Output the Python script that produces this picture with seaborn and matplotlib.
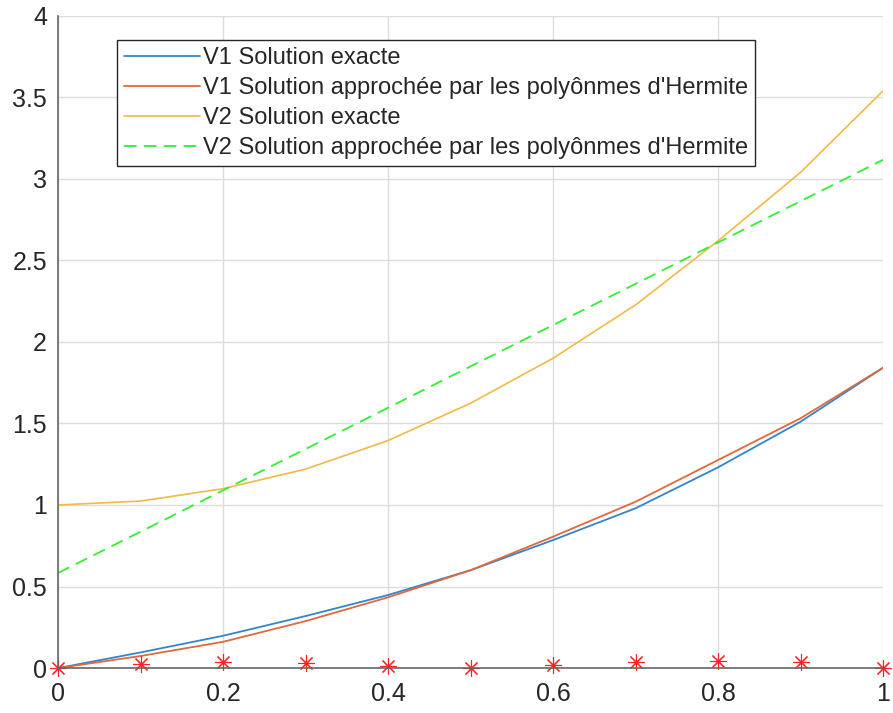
import matplotlib
matplotlib.use("Agg")
import matplotlib.pyplot as plt
import seaborn as sb
import pandas as pd

# values
x = [0.0, 0.1, 0.2, 0.3, 0.4, 0.5, 0.6, 0.7, 0.8, 0.9, 1.0]
v1_exact = [0.0, 0.096, 0.198, 0.319, 0.448, 0.60, 0.785, 0.98, 1.231, 1.511, 1.842]
v1_hermite = [0.0, 0.074, 0.161, 0.288, 0.434, 0.60, 0.806, 1.02, 1.276, 1.532, 1.842]
v2_exact = [1.0, 1.024, 1.10, 1.22, 1.395, 1.624, 1.90, 2.227, 2.62, 3.04, 3.54]
v2_hermite = [0.583, 0.836, 1.09, 1.343, 1.596, 1.85, 2.103, 2.356, 2.61, 2.863, 3.117]
erreur = [0.0, 0.025, 0.035, 0.03, 0.012, 0.0, 0.02, 0.035, 0.043, 0.035, 0.003]

labels = ["V1 Solution exacte",
          "V1 Solution approchée par les polyônmes d'Hermite",
          "V2 Solution exacte",
          "V2 Solution approchée par les polyônmes d'Hermite"]

if __name__ == '__main__':
    sb.set_style("white")
    plt.rcParams['font.family'] = ['Liberation Sans', 'DejaVu Sans']

    df = pd.DataFrame({"x": x, "v1e": v1_exact, "v1h": v1_hermite,
                       "v2e": v2_exact, "v2h": v2_hermite, "err": erreur})

    fig = plt.figure(figsize=(8.93, 7.13), dpi=100)
    ax = fig.add_axes([0.065, 0.063, 0.924, 0.915])

    sb.lineplot(data=df, x="x", y="v1e", color="#2F86CC", lw=1.3, label=labels[0], ax=ax)
    sb.lineplot(data=df, x="x", y="v1h", color="#E0683C", lw=1.3, label=labels[1], ax=ax)
    sb.lineplot(data=df, x="x", y="v2e", color="#EFBB45", lw=1.2, label=labels[2], ax=ax)
    sb.lineplot(data=df, x="x", y="v2h", color="#33EE33", lw=1.3, label=labels[3], ax=ax,
                linestyle=(0, (7, 4)))
    sb.lineplot(data=df, x="x", y="err", color="red", linestyle="none", marker=(8, 2, 0),
                markersize=12, markeredgewidth=0.8, markeredgecolor="#FF2020",
                clip_on=False, legend=False, ax=ax)

    ax.set_xlim(0, 1)
    ax.set_ylim(0, 4)
    ax.set_xticks([0, 0.2, 0.4, 0.6, 0.8, 1])
    ax.set_xticklabels(["0", "0.2", "0.4", "0.6", "0.8", "1"])
    ax.set_yticks([0, 0.5, 1, 1.5, 2, 2.5, 3, 3.5, 4])
    ax.set_yticklabels(["0", "0.5", "1", "1.5", "2", "2.5", "3", "3.5", "4"])
    ax.set_xlabel("")
    ax.set_ylabel("")
    ax.grid(True, color="#DCDCDC", lw=1)
    ax.set_axisbelow(True)
    ax.tick_params(direction="in", length=5, width=1, color="#555555",
                   labelsize=18, labelcolor="#262626", pad=8)
    ax.tick_params(axis="x", pad=10)
    for s in ["top", "right"]:
        ax.spines[s].set_visible(False)
    for s in ["left", "bottom"]:
        ax.spines[s].set_color("#666666")
        ax.spines[s].set_linewidth(1.2)

    leg = ax.legend(loc="upper left", bbox_to_anchor=(0.0715, 0.963), fontsize=17,
                    handlelength=3.2, handletextpad=0.15, borderpad=0.3,
                    labelspacing=0.34, fancybox=False, framealpha=1,
                    edgecolor="#262626", borderaxespad=0)
    leg.get_frame().set_linewidth(1.0)

    fig.savefig("out.png", dpi=100)
